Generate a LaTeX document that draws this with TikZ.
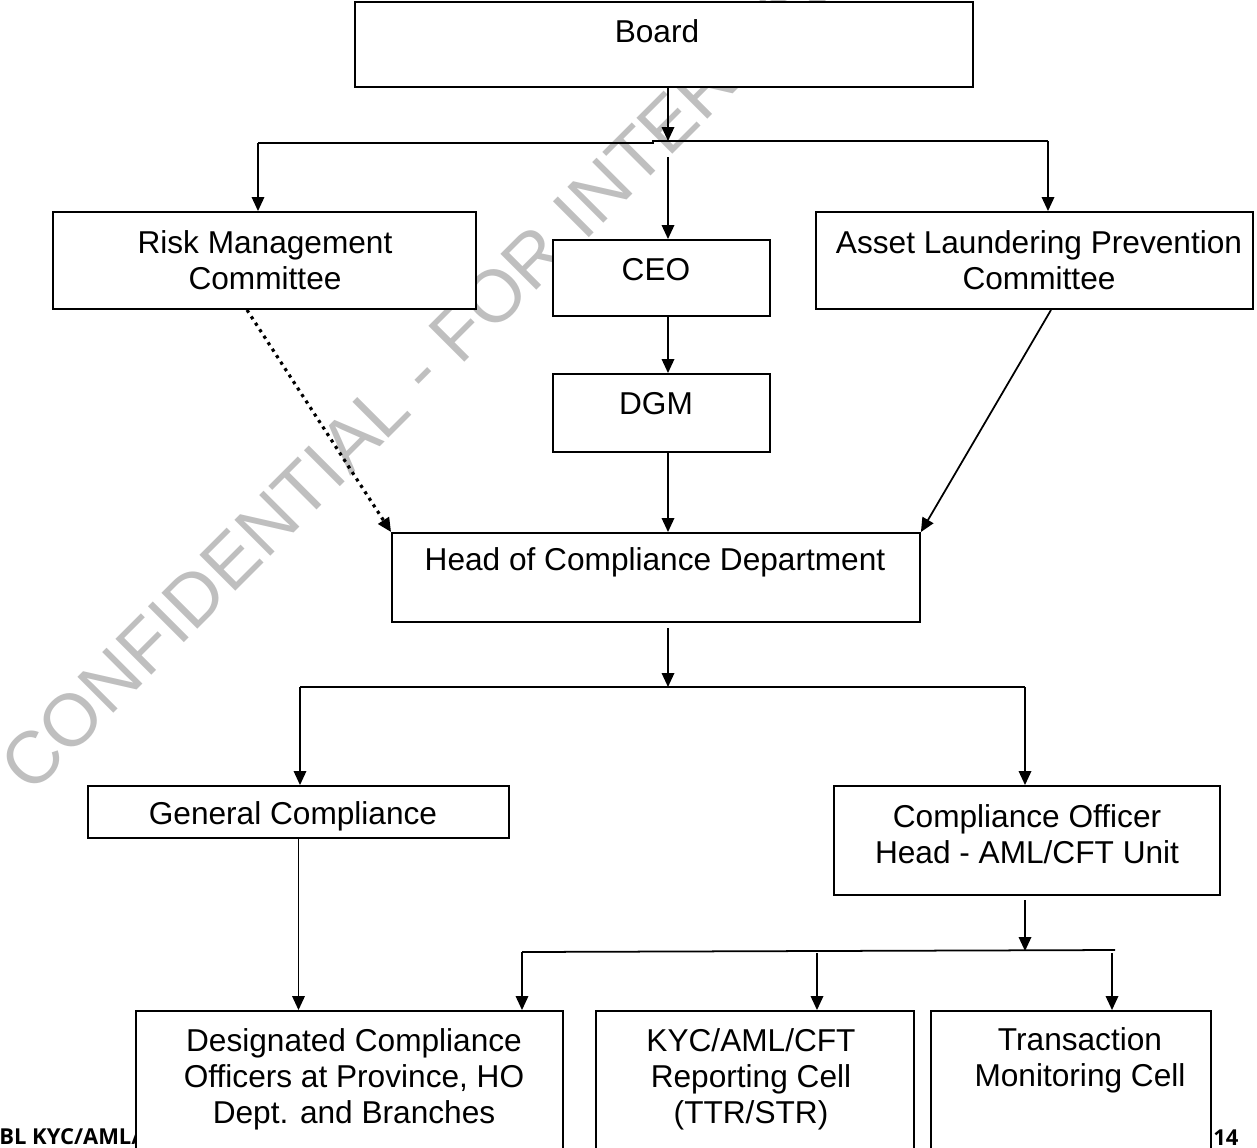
\documentclass[tikz,border=0pt]{standalone}
\usepackage{fontspec}
\setmainfont{Liberation Sans}
\newfontfamily\footfont{Open Sans}
\usetikzlibrary{arrows.meta,calc}

\begin{document}
\begin{tikzpicture}[x=0.02cm,y=-0.02cm,
  main node/.style={rectangle,draw,fill=white,line width=1.1pt,inner sep=0pt},
  txt/.style={font=\fontsize{18}{20.5}\selectfont,align=center,inner sep=0pt},
  arr/.style={line width=1pt,-{Triangle[length=0.28cm,width=0.25cm]}},
  dots/.style={line width=1.8pt,dash pattern=on 1.8pt off 2.6pt,
    -{Triangle[length=0.28cm,width=0.25cm]}},
  wm/.style={font=\fontsize{42}{42}\selectfont,text=black!25,inner sep=0pt},
  foot/.style={font=\footfont\bfseries\fontsize{12.5}{14}\selectfont,inner sep=0pt,anchor=base west}]

  \useasboundingbox (0,0) rectangle (1257,1147);

  % watermark and footer go first, the boxes cover them
  \node[wm,rotate=45,anchor=base west] (wm) at (31,796) {CONFIDENTIAL - FOR INTERNAL USE};
  \node[foot] (ftl) at (-1,1144) {BL KYC/AML/};
  \node[foot] (ftr) at (1213,1145) {14};

  % boxes
  \node[main node,minimum width=12.36cm,minimum height=1.70cm] (board) at (664,44.5) {};
  \node[main node,minimum width=8.46cm,minimum height=1.94cm] (risk) at (264.5,260.5) {};
  \node[main node,minimum width=4.34cm,minimum height=1.52cm] (ceo) at (661.5,278) {};
  \node[main node,minimum width=8.74cm,minimum height=1.94cm] (alpc) at (1034.5,260.5) {};
  \node[main node,minimum width=4.34cm,minimum height=1.56cm] (dgm) at (661.5,413) {};
  \node[main node,minimum width=10.56cm,minimum height=1.78cm] (head) at (656,577.5) {};
  \node[main node,minimum width=8.42cm,minimum height=1.04cm] (gen) at (298.5,812) {};
  \node[main node,minimum width=7.72cm,minimum height=2.18cm] (co) at (1027,840.5) {};
  \node[main node,minimum width=8.54cm,minimum height=4.78cm] (des) at (349.5,1130.5) {};
  \node[main node,minimum width=6.36cm,minimum height=4.78cm] (kyc) at (755,1130.5) {};
  \node[main node,minimum width=5.60cm,minimum height=4.78cm] (tm) at (1071,1130.5) {};

  % texts
  \node[txt] (board-t) at (657,31) {Board};
  \node[txt] (risk-t) at (265,260) {Risk Management\\Committee};
  \node[txt] (ceo-t) at (656,270) {CEO};
  \node[txt] (alpc-t) at (1039,260) {Asset Laundering Prevention\\Committee};
  \node[txt] (dgm-t) at (656,404) {DGM};
  \node[txt] (head-t) at (655,562) {Head of Compliance Department};
  \node[txt] (gen-t) at (293,816) {General Compliance};
  \node[txt] (co-t) at (1027,834) {Compliance Officer\\Head - AML/CFT Unit};
  \node[txt] (des-t) at (354,1079) {Designated Compliance\\Officers at Province, HO\\Dept. and Branches};
  \node[txt] (kyc-t) at (751,1079) {KYC/AML/CFT\\Reporting Cell\\(TTR/STR)};
  \node[txt] (tm-t) at (1080,1060) {Transaction\\Monitoring Cell};

  % junctions
  \coordinate (bus1-l) at (258,143);
  \coordinate (bus1-k) at (653,143);
  \coordinate (bus1-m) at (668,141);
  \coordinate (bus1-r) at (1048,141);
  \coordinate (ceo-in) at (668,157);
  \coordinate (head-out) at (668,628);
  \coordinate (bus2-l) at (300,687);
  \coordinate (bus2-m) at (668,687);
  \coordinate (bus2-r) at (1025,687);
  \coordinate (co-out) at (1025,900);
  \coordinate (bus3-l) at (522,952);
  \coordinate (bus3-m) at (1025,951);
  \coordinate (bus3-c) at (817,953);
  \coordinate (bus3-r) at (1115,950);
  \coordinate (bus3-t) at (1112,953);

  \draw[line width=1pt] (bus1-l) -- (bus1-k) |- (bus1-r);
  \draw[line width=1pt] (bus2-l) -- (bus2-r);
  \draw[line width=1pt] (bus3-l) -- (bus3-r);

  \draw[arr] (board.south -| bus1-m) -- (bus1-m);
  \draw[arr] (bus1-l) -- (bus1-l |- risk.north);
  \draw[arr] (ceo-in) -- (ceo-in |- ceo.north);
  \draw[arr] (bus1-r) -- (bus1-r |- alpc.north);
  \draw[arr] (ceo.south -| bus1-m) -- (dgm.north -| bus1-m);
  \draw[arr] (dgm.south -| bus1-m) -- (head.north -| bus1-m);
  \draw[dots] ($(risk.south)+(-17.5,0)$) -- (head.north west);
  \draw[arr] ($(alpc.south)+(16.5,0)$) -- (head.north east);
  \draw[arr] (head-out) -- (bus2-m);
  \draw[arr] (bus2-l) -- (bus2-l |- gen.north);
  \draw[arr] (bus2-r) -- (bus2-r |- co.north);
  \draw[arr] (gen.south) -- (gen.south |- des.north);
  \draw[arr] (co-out) -- (bus3-m);
  \draw[arr] (bus3-l) -- (bus3-l |- des.north);
  \draw[arr] (bus3-c) -- (bus3-c |- kyc.north);
  \draw[arr] (bus3-t) -- (bus3-t |- tm.north);
\end{tikzpicture}
\end{document}
